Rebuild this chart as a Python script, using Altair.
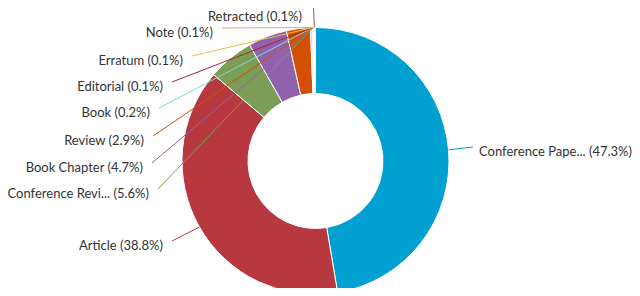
import math
import altair as alt
import pandas as pd

# ---- data ----
categories = ["Conference Paper", "Article", "Conference Review", "Book Chapter",
              "Review", "Book", "Editorial", "Erratum", "Note", "Retracted"]
shares = [47.3, 38.8, 5.6, 4.7, 2.9, 0.2, 0.1, 0.1, 0.1, 0.1]
colors = ["#00a0d0", "#b8383f", "#7c9d55", "#9261ae", "#d44f06",
          "#7fdad3", "#a8262f", "#e6c23e", "#e9a48b", "#94614f"]

# ---- layout (reference page pixels) ----
cx, cy, R_out, R_in = 315.5, 161.0, 133.5, 67.5
# label anchor (x, y) per category, right-aligned
label_layout = {
    "Conference Paper": (632, 152),
    "Article": (163, 246),
    "Conference Review": (149, 194),
    "Book Chapter": (143, 168),
    "Review": (144, 141),
    "Book": (150, 113),
    "Editorial": (163, 87),
    "Erratum": (183, 61),
    "Note": (213, 33),
    "Retracted": (302, 17),
}
conf_paper_line_start = (473, 147)
# connectors of the tiny/left slices meet here (angle on the outer edge, degrees)
meet_angle = 358.9

total = sum(shares)


def edge_point(angle_deg):
    a = math.radians(angle_deg)
    return cx + R_out * math.sin(a), cy - R_out * math.cos(a)


def short(name):
    return name[:15] + "..." if len(name) > 15 else name


slices = pd.DataFrame({"cat": categories, "value": shares, "idx": range(len(categories))})

label_rows, line_rows = [], []
cum = 0.0
for cat, v in zip(categories, shares):
    mid = (cum + v / 2) / total * 360
    cum += v
    lx, ly = label_layout[cat]
    label_rows.append({"cat": cat, "label": f"{short(cat)} ({v}%)", "px": lx, "py": ly})
    if cat == "Retracted":
        pts = [edge_point(meet_angle + 0.6), (cx - 2.0, 8.0)]
    elif cat == "Conference Paper":
        pts = [conf_paper_line_start, edge_point(mid)]
    else:
        end = edge_point(mid) if cat == "Article" else edge_point(meet_angle)
        pts = [(lx + 9, ly - 5), end]
    for k, (px, py) in enumerate(pts):
        line_rows.append({"cat": cat, "px": px, "py": py, "ord": k})

labels = pd.DataFrame(label_rows)
lines = pd.DataFrame(line_rows)

W, H = 624, 280
xs = alt.Scale(domain=[8, 8 + W], nice=False, zero=False)
ys = alt.Scale(domain=[8, 8 + H], nice=False, zero=False, reverse=True)
cscale = alt.Scale(domain=categories, range=colors)

arcs = alt.Chart(slices).mark_arc(
    radius=R_out, radius2=R_in, stroke="white", strokeWidth=1
).encode(
    theta=alt.Theta("value:Q", stack=True),
    color=alt.Color("cat:N", scale=cscale, legend=None),
    order=alt.Order("idx:Q"),
    x=alt.value(cx - 8),
    y=alt.value(cy - 8),
)

conn = alt.Chart(lines).mark_line(strokeWidth=1).encode(
    x=alt.X("px:Q", scale=xs, axis=None),
    y=alt.Y("py:Q", scale=ys, axis=None),
    color=alt.Color("cat:N", scale=cscale, legend=None),
    detail="cat:N",
    order="ord:Q",
)

txt = alt.Chart(labels).mark_text(
    font="Lato", fontSize=13, color="#333333", align="right", baseline="middle"
).encode(
    x=alt.X("px:Q", scale=xs, axis=None),
    y=alt.Y("py:Q", scale=ys, axis=None),
    text="label:N",
)

chart = alt.layer(arcs, conn, txt).properties(
    width=W, height=H, autosize=alt.AutoSizeParams(type="none"), padding=0
).configure_view(stroke=None)

chart.save("out.html", embed_options={"renderer": "svg", "actions": False})
